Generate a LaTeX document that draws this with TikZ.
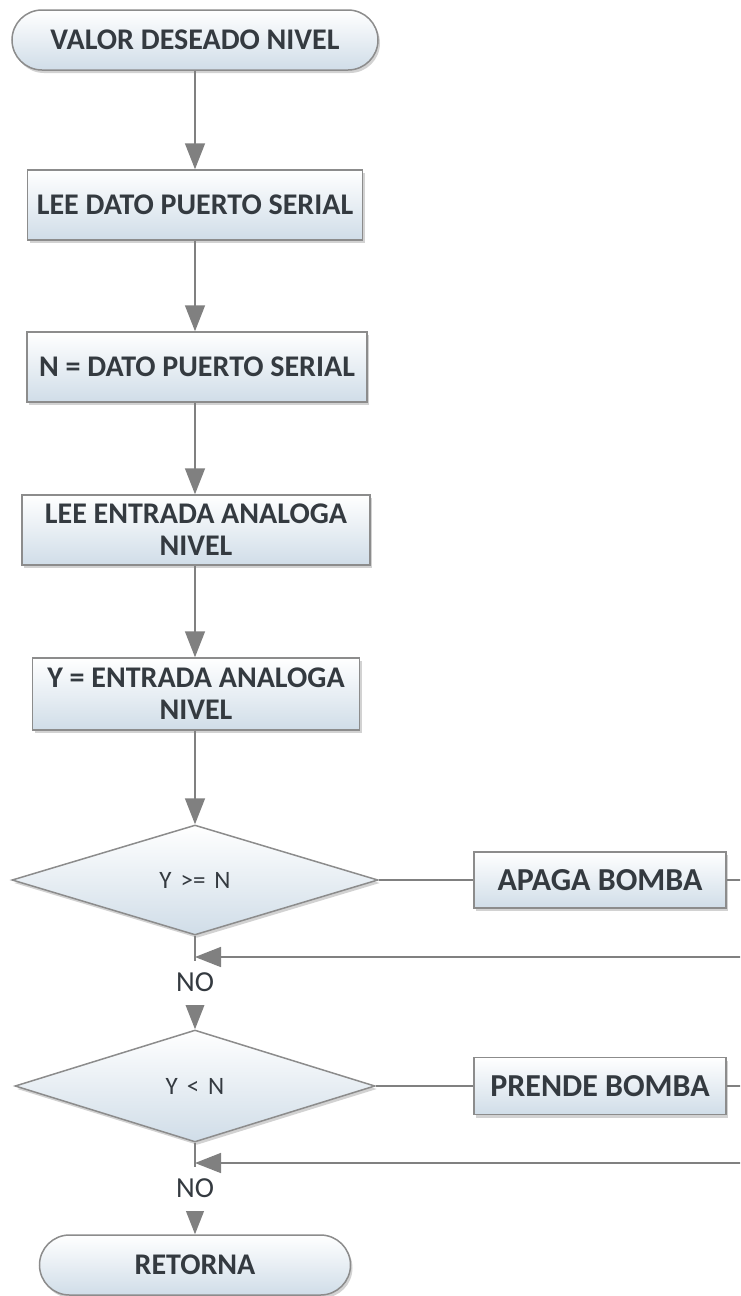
\documentclass[tikz,border=0pt]{standalone}
\usepackage{fontspec}
\setmainfont{Carlito}
\usetikzlibrary{shapes.geometric,arrows.meta,shadows}
\definecolor{linegray}{RGB}{128,128,128}
\definecolor{edgegray}{RGB}{140,140,140}
\definecolor{boxblue}{RGB}{208,221,232}
\definecolor{txtgray}{RGB}{52,58,64}
\newcommand\widespacing{\spaceskip=9pt plus 2pt\relax}
\begin{document}
\begin{tikzpicture}[x=1pt,y=-1pt,
  base/.style={draw=edgegray, line width=1.5pt, top color=white, bottom color=boxblue,
    text=txtgray, align=center, inner sep=0pt,
    drop shadow={shadow xshift=2pt, shadow yshift=-3pt, fill=black!35}},
  process/.style={base, rectangle, font=\bfseries\fontsize{30}{32}\selectfont},
  terminal/.style={base, rectangle, rounded corners=30pt, font=\bfseries\fontsize{30}{32}\selectfont},
  decision/.style={base, diamond, font=\fontsize{25}{28}\selectfont\widespacing},
  conn/.style={draw=linegray, line width=1.6pt},
  flow/.style={conn, -{Triangle[length=26pt,width=20pt]}},
  nolabel/.style={fill=white, text=txtgray, font=\fontsize{29}{30}\selectfont,
    inner xsep=2pt, minimum height=44pt}
]
\useasboundingbox (0,0) rectangle (740,1296);
\clip (0,0) rectangle (740,1296);

% main column
\node[terminal, minimum width=366pt, minimum height=60pt] (start) at (195,40) {VALOR DESEADO NIVEL};
\node[process, minimum width=335pt, minimum height=70pt] (b1) at (195,205) {LEE DATO PUERTO SERIAL};
\node[process, minimum width=340pt, minimum height=70pt] (b2) at (197,367) {N = DATO PUERTO SERIAL};
\node[process, minimum width=348pt, minimum height=70pt] (b3) at (196,530) {LEE ENTRADA ANALOGA\\NIVEL};
\node[process, minimum width=327pt, minimum height=72pt] (b4) at (196,694) {Y = ENTRADA ANALOGA\\NIVEL};
\node[decision, minimum width=366pt, minimum height=110pt] (d1) at (195,880) {Y >= N};
\node[decision, minimum width=360pt, minimum height=112pt] (d2) at (195,1086) {Y < N};
\node[terminal, minimum width=311pt, minimum height=60pt] (stop) at (195,1265) {RETORNA};

% actions on the right
\node[process, minimum width=252pt, minimum height=56pt, font=\bfseries\fontsize{32}{34}\selectfont] (apaga) at (600,880) {APAGA BOMBA};
\node[process, minimum width=252pt, minimum height=57pt, font=\bfseries\fontsize{32}{34}\selectfont] (prende) at (600,1086) {PRENDE BOMBA};

% junctions where the actions rejoin the column
\coordinate (j1) at (195,957);
\coordinate (j2) at (195,1163);

% vertical flow
\draw[flow] (start.south) -- (b1.north -| start.south);
\draw[flow] (b1.south -| start.south) -- (b2.north -| start.south);
\draw[flow] (b2.south -| start.south) -- (b3.north -| start.south);
\draw[flow] (b3.south -| start.south) -- (b4.north -| start.south);
\draw[flow] (b4.south -| start.south) -- (d1.north);
\draw[flow] (d1.south) -- node[nolabel] {NO} (d2.north);
\draw[flow] (d2.south) -- node[nolabel] {NO} (stop.north);

% branches
\draw[conn] (d1.east) -- (apaga.west);
\draw[flow] (apaga.east) -- ++(40,0) |- (j1);
\draw[conn] (d2.east) -- (prende.west);
\draw[flow] (prende.east) -- ++(40,0) |- (j2);
\end{tikzpicture}
\end{document}
